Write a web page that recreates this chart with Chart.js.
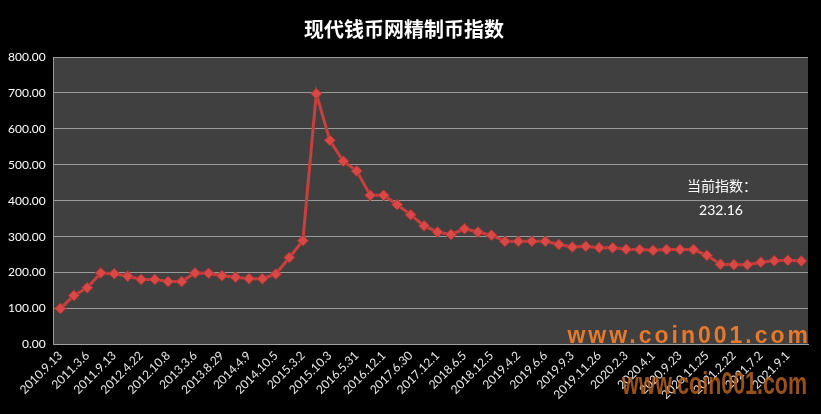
<!DOCTYPE html>
<html>
<head>
<meta charset="utf-8">
<script src="https://cdn.jsdelivr.net/npm/chart.js@4"></script>
<style>
  html, body { margin: 0; padding: 0; background: #000; }
  #wrap { width: 821px; height: 414px; }
</style>
</head>
<body>
<div id="wrap"><canvas id="myChart"></canvas></div>
<script>
const tickLabels = [
  "2010.9.13", "2011.3.6", "2011.9.13", "2012.4.22", "2012.10.8", "2013.3.6",
  "2013.8.29", "2014.4.9", "2014.10.5", "2015.3.2", "2015.10.3", "2016.5.31",
  "2016.12.1", "2017.6.30", "2017.12.1", "2018.6.5", "2018.12.5", "2019.4.2",
  "2019.6.6", "2019.9.3", "2019.11.26", "2020.2.3", "2020.4.1", "2020.9.23",
  "2020.11.25", "2021.2.22", "2021.7.2", "2021.9.1",
];
const indexValues = [
  100, 136, 158, 199, 197, 190, 181, 181, 175, 175,
  199, 198, 191, 187, 183, 183, 196, 242, 289, 698,
  568, 510, 483, 415, 415, 389, 361, 330, 313, 306,
  322, 313, 304, 287, 287, 287, 287, 278, 271, 273,
  269, 269, 265, 264, 262, 264, 264, 264, 248, 223,
  222, 222, 229, 233, 234, 232.16,
];
const currentValue = "232.16";

// labels only on every other point, like the original
const labels = indexValues.map((v, i) => (i % 2 === 0 ? tickLabels[i / 2] || "" : ""));

const ctx = document.getElementById("myChart");

const decor = {
  id: "decor",
  beforeDraw(chart) {
    const { ctx, chartArea } = chart;
    ctx.save();
    ctx.fillStyle = "#404040";
    ctx.fillRect(chartArea.left, chartArea.top, chartArea.right - chartArea.left, chartArea.bottom - chartArea.top);
    ctx.restore();
  },
  afterDraw(chart) {
    const { ctx, chartArea } = chart;
    ctx.save();
    ctx.fillStyle = "#ffffff";
    ctx.textAlign = "center";
    ctx.textBaseline = "middle";
    ctx.font = '14px "Noto Sans CJK SC"';
    ctx.fillText("当前指数：", 722, 186);
    ctx.font = '14px Lato';
    ctx.fillText(currentValue, 721, 210);

    ctx.textAlign = "right";
    ctx.textBaseline = "alphabetic";
    ctx.font = 'bold 23px "Liberation Sans"';
    ctx.letterSpacing = "3px";
    ctx.fillStyle = "#e8792a";
    ctx.fillText("www.coin001.com", chartArea.right + 3, chartArea.bottom - 1);

    ctx.letterSpacing = "0px";
    ctx.font = 'bold 31px "Liberation Sans"';
    ctx.fillStyle = "rgba(180, 95, 28, 0.85)";
    ctx.fillText("www.coin001.com", 807, 394, 185);
    ctx.restore();
  },
};

const myChart = new Chart(ctx, {
  type: "line",
  data: {
    labels: labels,
    datasets: [
      {
        label: "精制币指数",
        data: indexValues,
        borderColor: "#c8403e",
        borderWidth: 3,
        pointStyle: "rectRot",
        pointRadius: 5.5,
        pointBackgroundColor: "#d84846",
        pointBorderColor: "#a83230",
        pointBorderWidth: 1,
        tension: 0,
      },
    ],
  },
  options: {
    responsive: true,
    maintainAspectRatio: false,
    animation: false,
    layout: { padding: { left: 0, right: 13, bottom: 8 } },
    plugins: {
      legend: { display: false },
      tooltip: { enabled: false },
      title: {
        display: true,
        text: "现代钱币网精制币指数",
        color: "#ffffff",
        font: { family: '"Noto Sans CJK SC"', size: 20, weight: "bold" },
        padding: { top: 17, bottom: 16 },
      },
    },
    scales: {
      x: {
        offset: true,
        grid: { display: false, drawTicks: false },
        border: { color: "#a0a0a0", width: 1 },
        ticks: {
          autoSkip: false,
          maxRotation: 45,
          minRotation: 45,
          color: "#e8e8e8",
          padding: 4,
          font: { family: "Lato", size: 12 },
        },
      },
      y: {
        min: 0,
        max: 800,
        grid: { color: "#9a9a9a", lineWidth: 1, drawTicks: false },
        border: { color: "#9a9a9a", width: 1 },
        ticks: {
          stepSize: 100,
          color: "#ffffff",
          padding: 8,
          font: { family: "Lato", size: 12 },
          callback: (v) => v.toFixed(2),
        },
      },
    },
  },
  plugins: [decor],
});
</script>
</body>
</html>
